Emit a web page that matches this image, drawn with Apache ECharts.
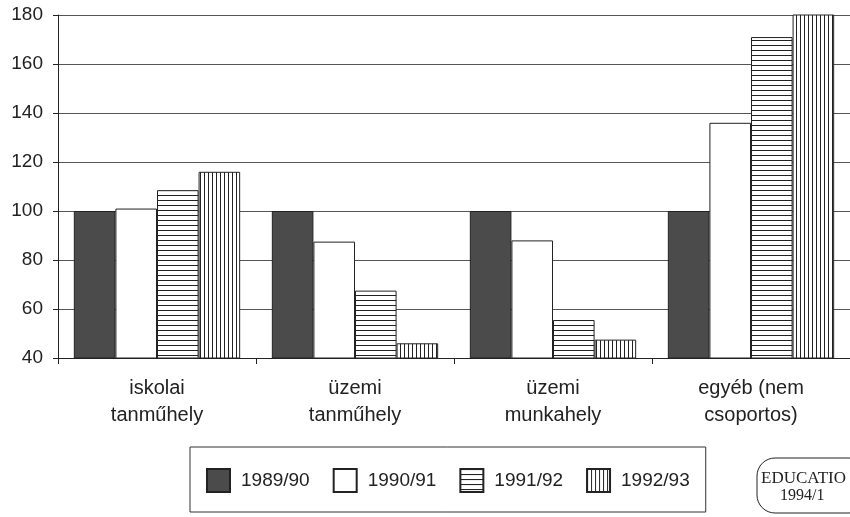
<!DOCTYPE html>
<html>
<head>
<meta charset="utf-8">
<script src="https://cdn.jsdelivr.net/npm/echarts@6/dist/echarts.min.js"></script>
<style>
  html, body { margin: 0; padding: 0; background: #fff; }
  #chart { width: 850px; height: 517px; }
</style>
</head>
<body>
<div id="chart"></div>
<script>
const categories = ['iskolai\ntanműhely', 'üzemi\ntanműhely', 'üzemi\nmunkahely', 'egyéb (nem\ncsoportos)']
const years = ['1989/90', '1990/91', '1991/92', '1992/93']
const v1989 = [100, 100, 100, 100]
const v1990 = [101, 87.5, 88, 136]
const v1991 = [108.5, 67.5, 55.5, 171]
const v1992 = [116, 46, 47.5, 190]
const yTicks = [40, 60, 80, 100, 120, 140, 160, 180]

// hatch fills
function stripes(horizontal) {
  const c = document.createElement('canvas')
  c.width = horizontal ? 8 : 4
  c.height = horizontal ? 5 : 8
  const ctx = c.getContext('2d')
  ctx.fillStyle = '#fff'
  ctx.fillRect(0, 0, c.width, c.height)
  ctx.fillStyle = '#222'
  if (horizontal) ctx.fillRect(0, 0, c.width, 1)
  else ctx.fillRect(0, 0, 1, c.height)
  return { image: c, repeat: 'repeat' }
}

const fills = ['#4b4b4b', '#ffffff', stripes(true), stripes(false)]
const values = [v1989, v1990, v1991, v1992]

const myChart = echarts.init(document.getElementById('chart'))
myChart.setOption({
  animation: false,
  textStyle: { fontFamily: 'Liberation Sans, Arial, sans-serif' },
  grid: { left: 58, right: 0, top: 15, bottom: 159 },
  legend: {
    left: 190,
    top: 447,
    padding: [21, 16, 19, 16],
    borderColor: '#333',
    borderWidth: 1,
    itemWidth: 23,
    itemHeight: 23,
    itemGap: 23,
    icon: 'rect',
    textStyle: { fontSize: 19, color: '#222', padding: [0, 0, 0, 6] },
    data: years
  },
  xAxis: {
    type: 'category',
    data: categories,
    axisLine: { lineStyle: { color: '#222', width: 1 } },
    axisTick: { show: true, length: 6, lineStyle: { color: '#222' } },
    axisLabel: { fontSize: 20, color: '#222', margin: 17, lineHeight: 27 }
  },
  yAxis: {
    type: 'value',
    min: yTicks[0],
    max: yTicks[yTicks.length - 1],
    interval: 20,
    axisLine: { show: true, lineStyle: { color: '#222' } },
    axisTick: { show: true, length: 5, lineStyle: { color: '#222' } },
    axisLabel: { fontSize: 19, color: '#222', margin: 15 },
    splitLine: { lineStyle: { color: '#555', width: 1 } }
  },
  series: years.map((name, i) => ({
    name: name,
    type: 'bar',
    barGap: '0%',
    barCategoryGap: '16%',
    clip: true,
    itemStyle: { color: fills[i], borderColor: '#222', borderWidth: 1 },
    data: values[i]
  })),
  graphic: [
    {
      type: 'rect',
      shape: { x: 757, y: 458, width: 110, height: 55, r: 18 },
      style: { fill: '#fff', stroke: '#222', lineWidth: 1 }
    },
    {
      type: 'text',
      left: 761,
      top: 470,
      style: { text: 'EDUCATIO', font: '17px "Liberation Serif", "DejaVu Serif", serif', fill: '#222' }
    },
    {
      type: 'text',
      left: 780,
      top: 488,
      style: { text: '1994/1', font: '16px "Liberation Serif", "DejaVu Serif", serif', fill: '#222' }
    }
  ]
})
</script>
</body>
</html>
